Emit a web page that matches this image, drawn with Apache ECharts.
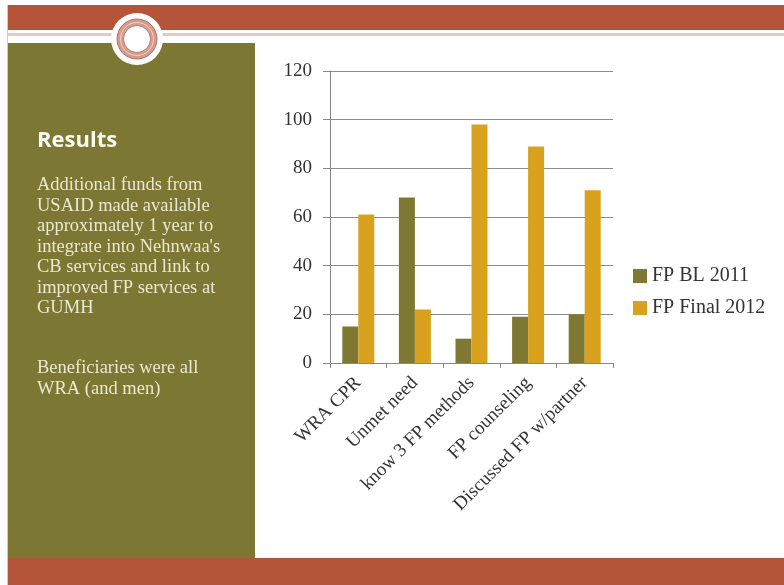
<!DOCTYPE html>
<html>
<head>
<meta charset="utf-8">
<script src="https://cdn.jsdelivr.net/npm/echarts@6/dist/echarts.min.js"></script>
<style>
  html, body { margin: 0; padding: 0; background: #fff; }
  #chart { width: 784px; height: 585px; }
</style>
</head>
<body>
<div id="chart"></div>
<script>
// data
const categories = ['WRA CPR', 'Unmet need', 'know 3 FP methods', 'FP counseling', 'Discussed FP w/partner'];
const fpBL2011 = [15, 68, 10, 19, 20];
const fpFinal2012 = [61, 22, 98, 89, 71];
const yTicks = [0, 20, 40, 60, 80, 100, 120];

const panelLines = [
  'Additional funds from',
  'USAID made available',
  'approximately 1 year to',
  'integrate into Nehnwaa\'s',
  'CB services and link to',
  'improved FP services at',
  'GUMH'
];
const panelLines2 = ['Beneficiaries were all', 'WRA (and men)'];

const chart = echarts.init(document.getElementById('chart'));

const red = '#b4553a';
const olive = '#7c7732';
const serif = '"Liberation Serif", "DejaVu Serif", serif';

// slide decoration
const graphics = [
  { type: 'rect', shape: { x: 8, y: 5, width: 776, height: 25 }, style: { fill: red }, z: 0 },
  { type: 'rect', shape: { x: 8, y: 33, width: 776, height: 3 }, style: { fill: '#ebc8bf' }, z: 0 },
  { type: 'rect', shape: { x: 8, y: 43, width: 247, height: 516 }, style: { fill: olive }, z: 0 },
  { type: 'rect', shape: { x: 8, y: 558, width: 776, height: 27 }, style: { fill: red }, z: 0 },
  { type: 'rect', shape: { x: 7, y: 5, width: 1, height: 580 }, style: { fill: '#e6c3ba' }, z: 0 },
  { type: 'circle', shape: { cx: 137, cy: 39, r: 26 }, style: { fill: '#fff' }, z: 1 },
  { type: 'circle', shape: { cx: 137, cy: 39, r: 20 }, style: { fill: '#d49c8f', stroke: '#b96e5e', lineWidth: 1 }, z: 1 },
  { type: 'circle', shape: { cx: 137, cy: 39, r: 16.5 }, style: { fill: 'none', stroke: '#eed0c8', lineWidth: 1 }, z: 1 },
  { type: 'circle', shape: { cx: 137, cy: 39, r: 13.5 }, style: { fill: '#fff', stroke: '#c07a6a', lineWidth: 1 }, z: 1 },
  { type: 'text', left: 37, top: 130, style: { text: 'Results', fill: '#fbfaf3', font: 'bold 22px "Open Sans", sans-serif' }, z: 2 },
  { type: 'text', left: 37, top: 175, style: { text: panelLines.join('\n'), fill: '#ece8d2', font: '18.5px ' + serif, lineHeight: 20.5 }, z: 2 },
  { type: 'text', left: 37, top: 358, style: { text: panelLines2.join('\n'), fill: '#ece8d2', font: '18.5px ' + serif, lineHeight: 20.5 }, z: 2 }
];

chart.setOption({
  animation: false,
  backgroundColor: '#fff',
  graphic: graphics,
  grid: { left: 330, right: 171, top: 71, bottom: 222 },
  legend: {
    orient: 'vertical',
    left: 633,
    top: 266,
    padding: 0,
    itemWidth: 14,
    itemHeight: 14,
    itemGap: 12,
    icon: 'rect',
    textStyle: { fontFamily: serif, fontSize: 20, color: '#333' },
    data: ['FP BL 2011', 'FP Final 2012']
  },
  xAxis: {
    type: 'category',
    data: categories,
    axisLine: { lineStyle: { color: '#888', width: 1 } },
    axisTick: { show: true, length: 5, lineStyle: { color: '#888' } },
    axisLabel: { rotate: 45, margin: 17, fontFamily: serif, fontSize: 19, color: '#333', interval: 0 }
  },
  yAxis: {
    type: 'value',
    min: yTicks[0],
    max: yTicks[yTicks.length - 1],
    interval: 20,
    axisLine: { show: true, lineStyle: { color: '#888', width: 1 } },
    axisTick: { show: true, length: 7, lineStyle: { color: '#888' } },
    axisLabel: { margin: 18, fontFamily: serif, fontSize: 19, color: '#333' },
    splitLine: { lineStyle: { color: '#8c8c8c', width: 1 } }
  },
  series: [
    {
      name: 'FP BL 2011',
      type: 'bar',
      data: fpBL2011,
      barWidth: 16,
      barGap: '0%',
      itemStyle: { color: '#7e7833' }
    },
    {
      name: 'FP Final 2012',
      type: 'bar',
      data: fpFinal2012,
      barWidth: 16,
      barGap: '0%',
      itemStyle: { color: '#d8a21e' }
    }
  ]
});
</script>
</body>
</html>
